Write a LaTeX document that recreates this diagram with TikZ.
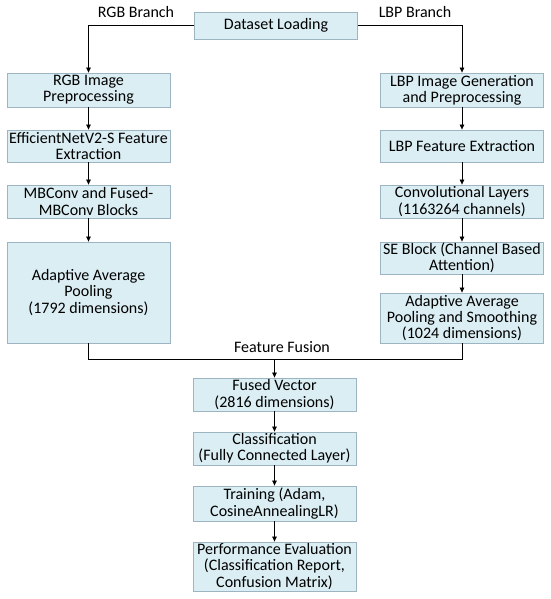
\documentclass[tikz,border=0pt]{standalone}
\usepackage{fontspec}
\setmainfont{Carlito}
\usetikzlibrary{arrows.meta}

\definecolor{boxfill}{HTML}{DBEEF4}
\definecolor{boxline}{HTML}{9DB5C2}

\begin{document}
\begin{tikzpicture}[x=1pt,y=-1pt,
    stage/.style={draw=boxline,fill=boxfill,line width=0.8pt,minimum width=163pt,
      align=center,inner sep=0pt,font=\fontsize{16}{16.2}\selectfont},
    flow/.style={-{Triangle[length=5pt,width=4.5pt]},line width=0.7pt},
    link/.style={line width=0.7pt},
    tag/.style={font=\fontsize{16}{16.2}\selectfont}]
  \useasboundingbox (0,0) rectangle (550,599);

  % Top
  \node[stage,minimum height=27pt] (dataset) at (276,25.5) {Dataset Loading};
  \node[tag] (rgbtag) at (136,12) {RGB Branch};
  \node[tag] (lbptag) at (415,12) {LBP Branch};

  % RGB branch
  \node[stage,minimum height=34pt] (rgbpre) at (88.5,90) {RGB Image\\Preprocessing};
  \node[stage,minimum height=32pt] (effnet) at (88.5,146) {EfficientNetV2-S Feature\\Extraction};
  \node[stage,minimum height=33pt] (mbconv) at (88.5,201.5) {MBConv and Fused-\\MBConv Blocks};
  \node[stage,minimum height=101pt] (rgbpool) at (88.5,292.5) {Adaptive Average\\Pooling\\(1792 dimensions)};

  % LBP branch
  \node[stage,minimum height=34pt] (lbpgen) at (462,90) {LBP Image Generation\\and Preprocessing};
  \node[stage,minimum height=32pt] (lbpfeat) at (462,146) {LBP Feature Extraction};
  \node[stage,minimum height=33pt] (conv) at (462,201.5) {Convolutional Layers\\(1163264 channels)};
  \node[stage,minimum height=32pt] (se) at (462,258) {SE Block (Channel Based\\Attention)};
  \node[stage,minimum height=50pt] (lbppool) at (462,318) {Adaptive Average\\Pooling and Smoothing\\(1024 dimensions)};

  % Fusion and head
  \coordinate (fuse) at (274.5,359);
  \node[tag] (fusetag) at (282,347) {Feature Fusion};
  \node[stage,minimum height=33pt] (fused) at (274.5,394.5) {Fused Vector\\(2816 dimensions)};
  \node[stage,minimum height=33pt] (classif) at (274.5,448.5) {Classification\\(Fully Connected Layer)};
  \node[stage,minimum height=35pt] (train) at (274.5,503.5) {Training (Adam,\\CosineAnnealingLR)};
  \node[stage,minimum height=49pt] (perf) at (274.5,566.5) {Performance Evaluation\\(Classification Report,\\Confusion Matrix)};

  % Connectors
  \draw[flow] (dataset.west) -| (rgbpre.north);
  \draw[flow] (dataset.east) -| (lbpgen.north);
  \draw[flow] (rgbpre) -- (effnet);
  \draw[flow] (effnet) -- (mbconv);
  \draw[flow] (mbconv) -- (rgbpool);
  \draw[flow] (lbpgen) -- (lbpfeat);
  \draw[flow] (lbpfeat) -- (conv);
  \draw[flow] (conv) -- (se);
  \draw[flow] (se) -- (lbppool);
  \draw[link] (rgbpool.south) |- (fuse);
  \draw[link] (lbppool.south) |- (fuse);
  \draw[flow] (fuse) -- (fused.north);
  \draw[flow] (fused) -- (classif);
  \draw[flow] (classif) -- (train);
  \draw[flow] (train) -- (perf);
\end{tikzpicture}
\end{document}
